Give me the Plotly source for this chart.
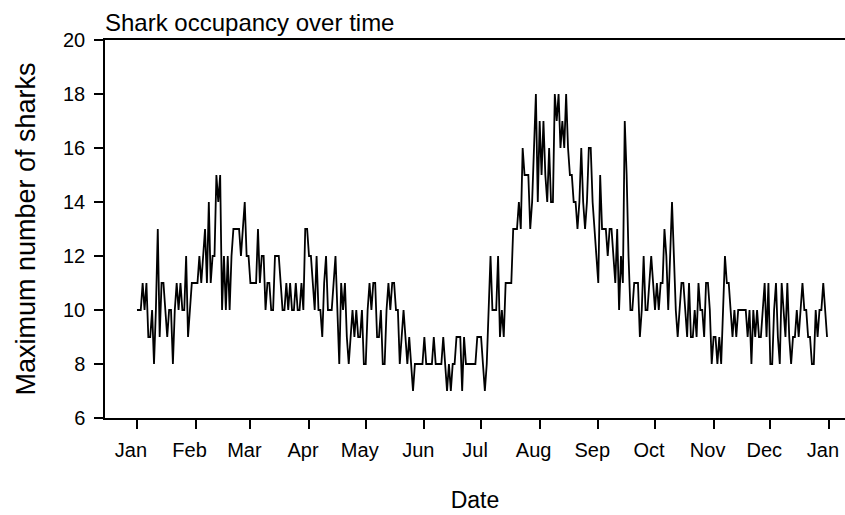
import pandas as pd
import plotly.graph_objects as go

# Daily maximum number of sharks, 2016 (leap year), one list per month
jan = [10,10,10,11,10,11,9,9,10,8, 10,13,9,11,11,10,9,10,10,8, 10,11,10,11,10,10,12,9,10,11, 11]
feb = [11,11,12,11,12,13,11,14,11, 12,12,15,14,15,10,12,10,12,10, 12,13,13,13,13,12,13,14,12,12]
mar = [11,11,11,11,13,11,12,12,10,11, 11,10,10,12,12,12,11,10,10,11, 10,11,10,10,11,10,10,11,10,13, 13]
apr = [12,12,11,10,12,10,10,9,11, 12,10,10,10,11,12,10,8,11,10, 11,9,8,9,10,9,10,9,9,10, 8]
may = [8,10,11,10,11,11,9,9,10, 8,8,10,11,10,11,11,10,10,8, 9,10,9,8,9,8,7,8,8,8, 8,8]
jun = [9,8,8,8,8,9,8,8, 8,8,9,8,7,8,7,8,8,9, 9,9,7,9,8,8,8,8,8,8, 9,9]
jul = [9,8,7,8,10,12,10,10, 10,12,9,10,9,11,11,11,11,13, 13,13,14,13,16,15,15,15,13,14, 16,18,14]
aug = [17,15,17,15,14,16,14, 14,18,17,18,16,17,16,18,16,15, 15,14,14,13,14,16,14,13,14,16, 16,14,13,12]
sep = [11,15,13,13,13,12, 13,13,12,11,13,10,12,11,17,15, 12,10,10,11,11,11,9,10,12,10, 10,11,12,11]
oct_ = [10,11,10,11,11,13, 12,10,12,14,12,10,9,10,11,11, 10,9,11,9,9,10,9,11,10,10, 9,11,11,10,8]
nov = [9,9,8,9,8, 10,12,11,11,10,9,10,9,10,10, 10,10,10,9,10,8,10,9,10,9, 9,10,11,9,11]
dec = [8,8,10,11,9, 8,11,10,9,11,9,8,9,9,10, 9,10,11,10,10,9,9,8,8,10, 9,10,10,11,10,9]

month_labels = ["Jan", "Feb", "Mar", "Apr", "May", "Jun", "Jul", "Aug", "Sep", "Oct", "Nov", "Dec", "Jan"]
month_ticks = pd.date_range("2016-01-01", "2017-01-01", freq="MS")
y_ticks = [6, 8, 10, 12, 14, 16, 18, 20]

values = jan + feb + mar + apr + may + jun + jul + aug + sep + oct_ + nov + dec
dates = pd.date_range("2016-01-01", periods=len(values), freq="D")

FONT = "Arial, 'Liberation Sans', Helvetica, sans-serif"

fig = go.Figure()
fig.add_trace(go.Scatter(
    x=dates, y=values, mode="lines",
    line=dict(color="black", width=1.8),
    hoverinfo="x+y", showlegend=False,
))

fig.update_layout(
    width=845, height=515,
    margin=dict(l=105, r=0, t=40, b=97),
    paper_bgcolor="white", plot_bgcolor="white",
    font=dict(family=FONT, color="black", size=20),
    title=dict(
        text="Shark occupancy over time",
        x=105 / 845, xanchor="left", xref="container",
        y=1 - 31 / 515, yanchor="bottom", yref="container",
        font=dict(size=24, family=FONT, color="black"),
        pad=dict(b=0, l=0, r=0, t=0),
    ),
    xaxis=dict(
        range=["2015-12-15 02:00", "2017-01-09 12:00"],
        tickvals=list(month_ticks), ticktext=month_labels,
        ticks="outside", ticklen=9, tickwidth=1.5, tickcolor="black",
        ticklabelshift=-6, ticklabelstandoff=4,
        showline=True, linecolor="black", linewidth=1.5, mirror=True,
        showgrid=False, zeroline=False,
        tickfont=dict(size=20),
        title=dict(text="Date", font=dict(size=23), standoff=32),
    ),
    yaxis=dict(
        range=[6, 20], tickvals=y_ticks,
        ticks="outside", ticklen=9, tickwidth=1.5, tickcolor="black",
        ticklabelstandoff=5,
        showline=True, linecolor="black", linewidth=1.5,
        showgrid=False, zeroline=False,
        tickfont=dict(size=20),
        title=dict(text="Maximum number of sharks", font=dict(size=27), standoff=20),
    ),
)

fig.write_html(
    "out.html",
    config={"displayModeBar": False},
    post_script="document.body.style.margin='0';document.body.style.overflow='hidden';",
)
